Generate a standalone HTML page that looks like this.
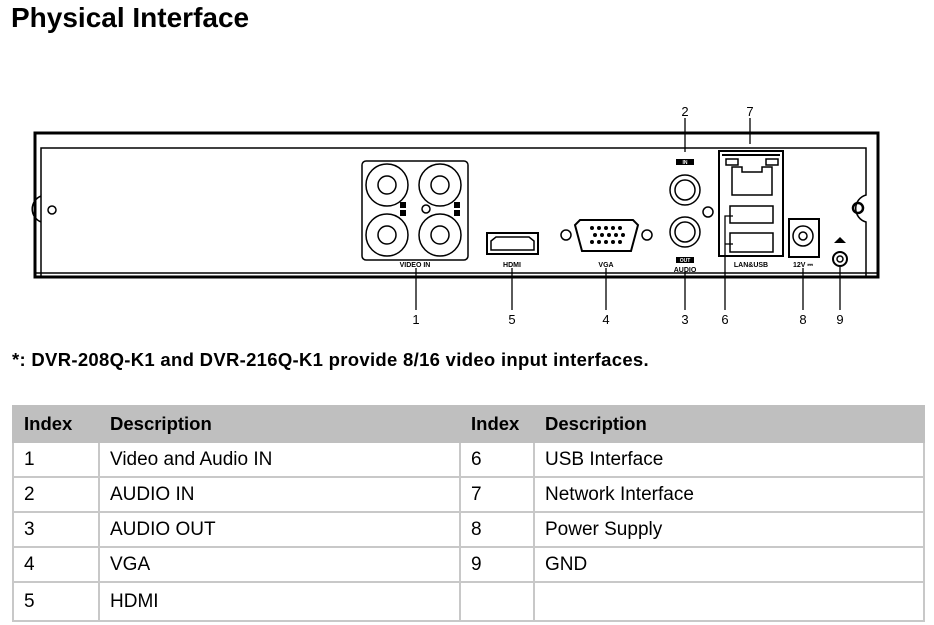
<!DOCTYPE html>
<html><head><meta charset="utf-8"><style>
body{margin:0;width:934px;height:625px;background:#fff;font-family:"Liberation Sans",sans-serif;position:relative;overflow:hidden}
h1{position:absolute;left:11px;top:2px;margin:0;font-size:28px;font-weight:bold;color:#000}
.note{position:absolute;left:12px;top:349px;font-size:18.5px;font-weight:bold;letter-spacing:0.3px}
table{position:absolute;left:12px;top:405px;border-collapse:collapse;width:913px;font-size:19px}
td,th{border:2px solid #c8c8c8;text-align:left;padding:0 0 0 10px;font-weight:normal}
th{background:#bfbfbf;font-weight:bold;height:34px;border-color:#bfbfbf;font-size:18.5px}
td{height:33px}
</style></head><body>
<h1>Physical Interface</h1>
<svg width="934" height="340" style="position:absolute;left:0;top:0" font-family="Liberation Sans,sans-serif">
<g fill="none" stroke="#000">
<path d="M35 277 V133 H878 V277 Z" stroke-width="3"/>
<path d="M41 277 V196 A14 14 0 0 0 41 222 M41 196 V148 H866 V195 A14 14 0 0 0 866 222 V277" stroke-width="1.5"/>
<circle cx="52" cy="210" r="4" stroke-width="1.5"/>
<circle cx="858" cy="208" r="5" stroke-width="2.5"/>
<line x1="35" y1="273" x2="878" y2="273" stroke-width="1.5"/>
<rect x="362" y="161" width="106" height="99" rx="4" stroke-width="1.5"/>
<g stroke-width="1.5">
<circle cx="387" cy="185" r="21"/><circle cx="387" cy="185" r="9"/>
<circle cx="440" cy="185" r="21"/><circle cx="440" cy="185" r="9"/>
<circle cx="387" cy="235" r="21"/><circle cx="387" cy="235" r="9"/>
<circle cx="440" cy="235" r="21"/><circle cx="440" cy="235" r="9"/>
<circle cx="426" cy="209" r="4"/>
<rect x="487" y="233" width="51" height="21" stroke-width="2"/>
<path d="M491 250 V241 L496 237 H529 L534 241 V250 Z"/>
<path d="M580 220 H633 L638 225 L631 251 H582 L575 225 Z" stroke-width="2"/>
<circle cx="566" cy="235" r="5"/><circle cx="647" cy="235" r="5"/>
<circle cx="685" cy="190" r="15"/><circle cx="685" cy="190" r="10"/>
<circle cx="685" cy="232" r="15"/><circle cx="685" cy="232" r="10"/>
<circle cx="708" cy="212" r="5"/>
<rect x="719" y="151" width="64" height="105" stroke-width="2"/>
<line x1="722" y1="155" x2="780" y2="155" stroke-width="2"/>
<path d="M732 167 H742 V172 H762 V167 H772 V195 H732 Z"/>
<rect x="726" y="159" width="12" height="6"/><rect x="766" y="159" width="12" height="6"/>
<rect x="730" y="206" width="43" height="17"/><rect x="730" y="233" width="43" height="19"/>
<rect x="789" y="219" width="30" height="38" stroke-width="2"/>
<circle cx="803" cy="236" r="10"/><circle cx="803" cy="236" r="4"/>
<circle cx="840" cy="259" r="7" stroke-width="2"/><circle cx="840" cy="259" r="3"/>
</g>
<g stroke-width="1.3">
<line x1="416" y1="268" x2="416" y2="310"/><line x1="512" y1="268" x2="512" y2="310"/>
<line x1="606" y1="268" x2="606" y2="310"/><line x1="685" y1="272" x2="685" y2="310"/>
<path d="M733 216 H725 V310"/><line x1="725" y1="244" x2="733" y2="244"/>
<line x1="803" y1="268" x2="803" y2="310"/><line x1="840" y1="267" x2="840" y2="310"/>
<line x1="685" y1="118" x2="685" y2="152"/><line x1="750" y1="118" x2="750" y2="144"/>
</g>
</g>
<g fill="#000">
<g fill="#000"><circle cx="592" cy="228" r="2"/><circle cx="599" cy="228" r="2"/><circle cx="606" cy="228" r="2"/><circle cx="613" cy="228" r="2"/><circle cx="620" cy="228" r="2"/>
<circle cx="595" cy="235" r="2"/><circle cx="602" cy="235" r="2"/><circle cx="609" cy="235" r="2"/><circle cx="616" cy="235" r="2"/><circle cx="623" cy="235" r="2"/>
<circle cx="592" cy="242" r="2"/><circle cx="599" cy="242" r="2"/><circle cx="606" cy="242" r="2"/><circle cx="613" cy="242" r="2"/><circle cx="620" cy="242" r="2"/></g>
<rect x="676" y="159" width="18" height="6"/><rect x="676" y="257" width="18" height="6"/>
<rect x="400" y="202" width="6" height="6"/><rect x="400" y="210" width="6" height="6"/>
<rect x="454" y="202" width="6" height="6"/><rect x="454" y="210" width="6" height="6"/>
<path d="M834 243 L840 237 L846 243 Z"/>
<g font-size="7" font-weight="bold" text-anchor="middle">
<text x="415" y="267">VIDEO IN</text><text x="512" y="267">HDMI</text><text x="606" y="267">VGA</text>
<text x="685" y="272">AUDIO</text><text x="751" y="267">LAN&amp;USB</text><text x="803" y="267">12V ⎓</text>
<text x="685" y="164" fill="#fff" font-size="5">IN</text><text x="685" y="262" fill="#fff" font-size="5">OUT</text>
</g>
<g font-size="13" text-anchor="middle">
<text x="416" y="324">1</text><text x="512" y="324">5</text><text x="606" y="324">4</text><text x="685" y="324">3</text>
<text x="725" y="324">6</text><text x="803" y="324">8</text><text x="840" y="324">9</text>
<text x="685" y="116">2</text><text x="750" y="116">7</text>
</g>
</g>
</svg>
<div class="note">*: DVR-208Q-K1 and DVR-216Q-K1 provide 8/16 video input interfaces.</div>
<table>
<tr><th style="width:74px">Index</th><th style="width:349px">Description</th><th style="width:62px">Index</th><th>Description</th></tr>
<tr><td>1</td><td>Video and Audio IN</td><td>6</td><td>USB Interface</td></tr>
<tr><td>2</td><td>AUDIO IN</td><td>7</td><td>Network Interface</td></tr>
<tr><td>3</td><td>AUDIO OUT</td><td>8</td><td>Power Supply</td></tr>
<tr><td>4</td><td>VGA</td><td>9</td><td>GND</td></tr>
<tr><td style="height:37px">5</td><td>HDMI</td><td></td><td></td></tr>
</table>
</body></html>
